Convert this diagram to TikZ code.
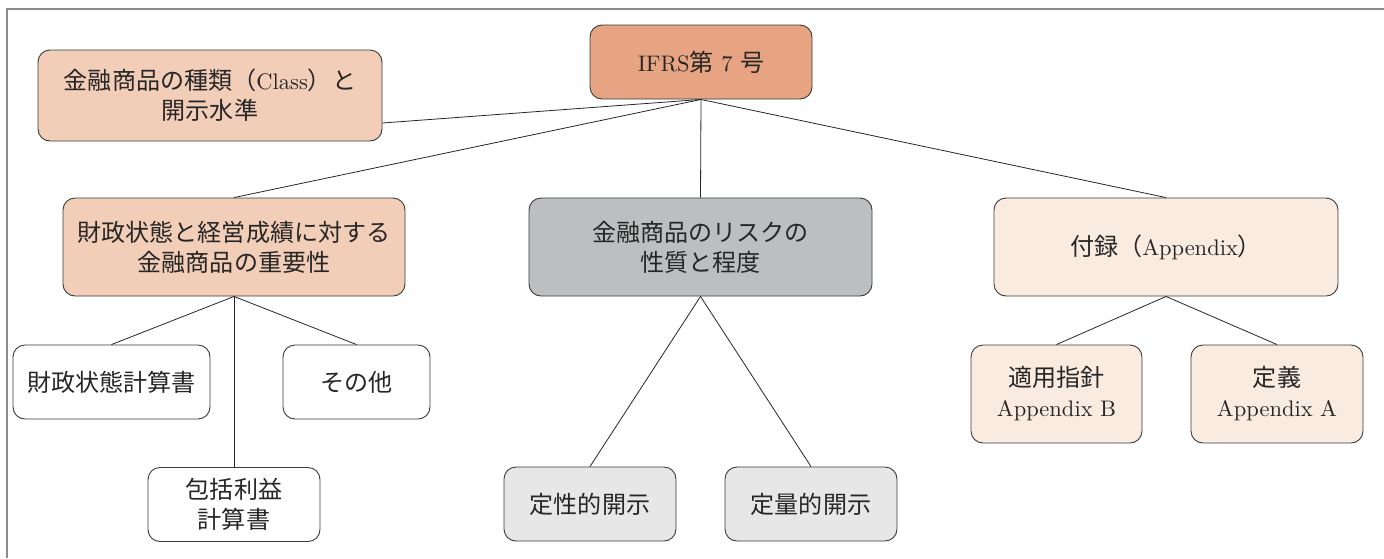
\documentclass[tikz,border=0pt]{standalone}
\usepackage{fontspec}
\setmainfont{lmroman10-regular.otf}
\newfontfamily\cjk{Noto Sans CJK JP}[Scale=1.07]
\newcommand\J[1]{{\cjk #1}}
\definecolor{ifrsfill}{HTML}{E6A483}
\definecolor{peach}{HTML}{F2CDB8}
\definecolor{lightpeach}{HTML}{FAEBE1}
\definecolor{riskgray}{HTML}{BDBEC0}
\definecolor{lightgray2}{HTML}{E7E7E8}
\definecolor{framegray}{HTML}{8C8C8C}
\definecolor{edge}{HTML}{3A3A3A}
\tikzset{
  box/.style={draw=edge, line width=0.9pt, rounded corners=12pt, align=center, inner sep=0pt,
    font=\fontsize{22.5}{30}\selectfont, text=black!85},
  link/.style={draw=black!85, line width=0.8pt},
}
\begin{document}
\begin{tikzpicture}[x=1pt,y=-1pt]
\useasboundingbox (0,0) rectangle (1384,558);
\draw[framegray, line width=2pt] (7,558) -- (7,8.5) -- (1384,8.5);

\node[box, fill=ifrsfill, minimum width=222, minimum height=74] (ifrs) at (701,62) {IFRS\J{第}~7~\J{号}};
\node[box, fill=peach, minimum width=344, minimum height=91] (cls) at (210,95.5) {\J{金融商品の種類（}Class\J{）と}\\\J{開示水準}};
\node[box, fill=peach, minimum width=342, minimum height=98] (fin) at (234,247) {\J{財政状態と経営成績に対する}\\\J{金融商品の重要性}};
\node[box, fill=riskgray, minimum width=343, minimum height=98] (risk) at (700.5,247) {\J{金融商品のリスクの}\\\J{性質と程度}};
\node[box, fill=lightpeach, minimum width=344, minimum height=98] (app) at (1166,247) {\J{付録（}Appendix\J{）}};

\node[box, fill=white, minimum width=197, minimum height=74] (bs) at (111.5,382) {\J{財政状態計算書}};
\node[box, fill=white, minimum width=147, minimum height=74] (oth) at (356.5,382) {\J{その他}};
\node[box, fill=white, minimum width=172, minimum height=74] (ci) at (234,504.5) {\J{包括利益}\\\J{計算書}};

\node[box, fill=lightgray2, minimum width=172, minimum height=74] (qual) at (590,504) {\J{定性的開示}};
\node[box, fill=lightgray2, minimum width=172, minimum height=74] (quan) at (811,504) {\J{定量的開示}};

\node[box, fill=lightpeach, minimum width=171, minimum height=98] (guide) at (1056.5,394) {\J{適用指針}\\Appendix B};
\node[box, fill=lightpeach, minimum width=172, minimum height=98] (defn) at (1277,394) {\J{定義}\\Appendix A};

\draw[link] (ifrs.south) -- ([yshift=-27.5pt]cls.east);
\draw[link] (ifrs.south) -- (fin.north);
\draw[link] (ifrs.south) -- (risk.north);
\draw[link] (ifrs.south) -- (app.north);
\draw[link] (fin.south) -- (bs.north);
\draw[link] (fin.south) -- (oth.north);
\draw[link] (fin.south) -- (ci.north);
\draw[link] (risk.south) -- (qual.north);
\draw[link] (risk.south) -- (quan.north);
\draw[link] (app.south) -- (guide.north);
\draw[link] (app.south) -- (defn.north);
\end{tikzpicture}
\end{document}
